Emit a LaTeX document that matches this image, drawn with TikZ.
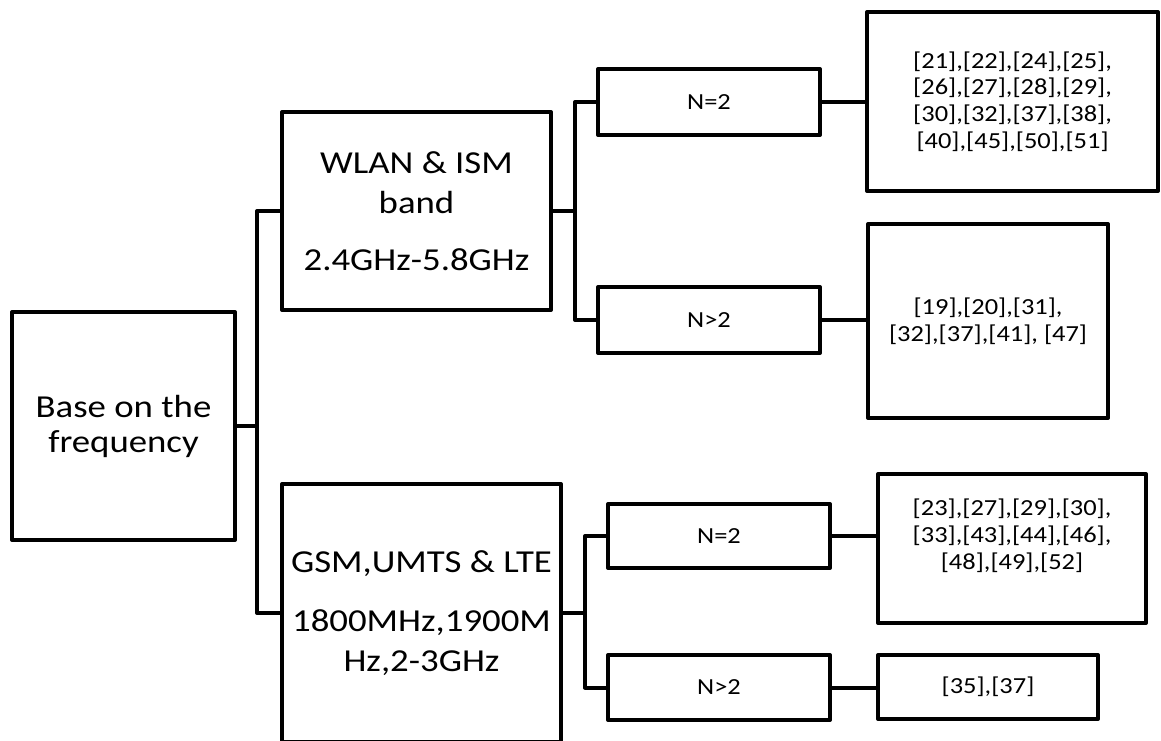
\documentclass[tikz,border=0pt]{standalone}
\usepackage{fontspec}
\setmainfont{Carlito}[FakeStretch=1.15]
\usetikzlibrary{positioning}

\begin{document}
\begin{tikzpicture}[x=1pt, y=-1pt, line width=4pt, line join=round, align=center,
    box/.style={draw, inner sep=0pt},
    bigbox/.style={box, font=\fontsize{32}{40}\selectfont},
    nbox/.style={box, font=\fontsize{23}{28}\selectfont, minimum width=222pt, minimum height=66pt},
    refbox/.style={box, font=\fontsize{23}{26.7}\selectfont}]
    \useasboundingbox (0,0) rectangle (1161,740);
    \clip (0,0) rectangle (1161,740);
    % first and second level
    \node[bigbox, font=\fontsize{32}{35}\selectfont, minimum width=223pt, minimum height=228pt] (base) at (123.5,426) {Base on the\\frequency};
    \node[bigbox, minimum width=269pt, minimum height=198pt] (wlan) at (416.5,211) {WLAN \& ISM\\band\\[17pt]2.4GHz-5.8GHz};
    \node[bigbox, minimum width=279pt, minimum height=258pt] (gsm) at (421.5,613) {GSM,UMTS \& LTE\\[19pt]1800MHz,1900M\\Hz,2-3GHz};
    % number of ports
    \node[nbox] (n2a) at (709,102) {N=2};
    \node[nbox] (n3a) at (709,320) {N>2};
    \node[nbox, minimum height=64pt] (n2b) at (719,536) {N=2};
    \node[nbox, minimum height=65pt] (n3b) at (719,687.5) {N>2};
    % references
    \node[refbox, minimum width=291pt, minimum height=179pt] (refa) at (1012.5,101.5) {[21],[22],[24],[25],\\{}[26],[27],[28],[29],\\{}[30],[32],[37],[38],\\{}[40],[45],[50],[51]};
    \node[refbox, minimum width=240pt, minimum height=194pt] (refb) at (988,321) {[19],[20],[31],\\{}[32],[37],[41], [47]};
    \node[refbox, minimum width=268pt, minimum height=149pt, text depth=29pt] (refc) at (1012,548.5) {[23],[27],[29],[30],\\{}[33],[43],[44],[46],\\{}[48],[49],[52]};
    \node[refbox, minimum width=220pt, minimum height=64pt] (refd) at (988,687) {[35],[37]};
    % connectors
    \coordinate (j1) at (257,426);
    \coordinate (j2) at (575,211);
    \coordinate (j3) at (585,613);
    \draw (base.east) -- (j1);
    \draw (wlan.west) -| (j1) |- (gsm.west);
    \draw (wlan.east) -- (j2);
    \draw (n2a.west) -| (j2) |- (n3a.west);
    \draw (gsm.east) -- (j3);
    \draw (n2b.west) -| (j3) |- (n3b.west);
    \draw (n2a.east) -- (n2a.east -| refa.west);
    \draw (n3a.east) -- (n3a.east -| refb.west);
    \draw (n2b.east) -- (n2b.east -| refc.west);
    \draw (n3b.east) -- (n3b.east -| refd.west);
\end{tikzpicture}
\end{document}
